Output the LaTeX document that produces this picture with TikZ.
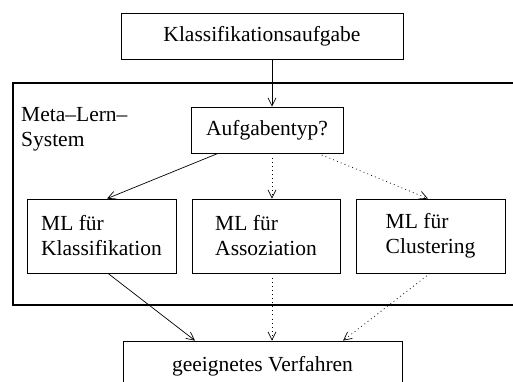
\documentclass[tikz,border=0pt]{standalone}
\usepackage{fontspec}
\setmainfont{Liberation Serif}
\usetikzlibrary{arrows.meta,calc}
\begin{document}
\begin{tikzpicture}[x=1pt,y=-1pt,
  every node/.style={font=\fontsize{21.5}{25}\selectfont},
  box/.style={draw,line width=0.8pt,inner sep=0pt,rectangle,align=left},
  conn/.style={line width=0.7pt,-{Straight Barb[length=8pt,width=8pt,line width=0.7pt]}},
  dotconn/.style={conn,dash pattern=on 0.9pt off 3.2pt},
  frame/.style={line width=2.8pt}]
\useasboundingbox (0,0) rectangle (513,382);
% outer system frame (right edge runs off the page)
\draw[frame] (13,83) rectangle (530,305);
\node[anchor=north west,align=left,inner sep=0pt] (meta) at (21,107) {Meta--Lern--\\System};
% nodes
\node[box,minimum width=282pt,minimum height=46pt] (task) at (262,36) {Klassifikationsaufgabe};
\node[box,minimum width=152pt,minimum height=46pt] (typ) at (267,130) {Aufgabentyp?};
\node[box,minimum width=149pt,minimum height=74pt] (mlk) at (101.5,236) {ML für\\Klassifikation};
\node[box,minimum width=148pt,minimum height=74pt] (mla) at (266,236) {ML für\\Assoziation};
\node[box,minimum width=149pt,minimum height=74pt] (mlc) at (430.5,236) {ML für\\Clustering};
\node[box,minimum width=279pt,minimum height=50pt] (res) at (262.5,366) {geeignetes Verfahren};
% connector anchor columns
\coordinate (cx) at (272,0);
\coordinate (typl) at (218,0);
\coordinate (typr) at (318,0);
\coordinate (kin) at (107,0);
\coordinate (cin) at (428,0);
\coordinate (kout) at (108,0);
\coordinate (cout) at (430,0);
\coordinate (rl) at (195,0);
\coordinate (rr) at (343,0);
% connectors
\draw[conn] (task.south -| cx) -- (typ.north -| cx);
\draw[conn] (typ.south -| typl) -- (mlk.north -| kin);
\draw[dotconn] (typ.south -| cx) -- (mla.north -| cx);
\draw[dotconn] (typ.south -| typr) -- (mlc.north -| cin);
\draw[conn] (mlk.south -| kout) -- (res.north -| rl);
\draw[dotconn] (mla.south -| cx) -- (res.north -| cx);
\draw[dotconn] (mlc.south -| cout) -- (res.north -| rr);
\end{tikzpicture}
\end{document}
